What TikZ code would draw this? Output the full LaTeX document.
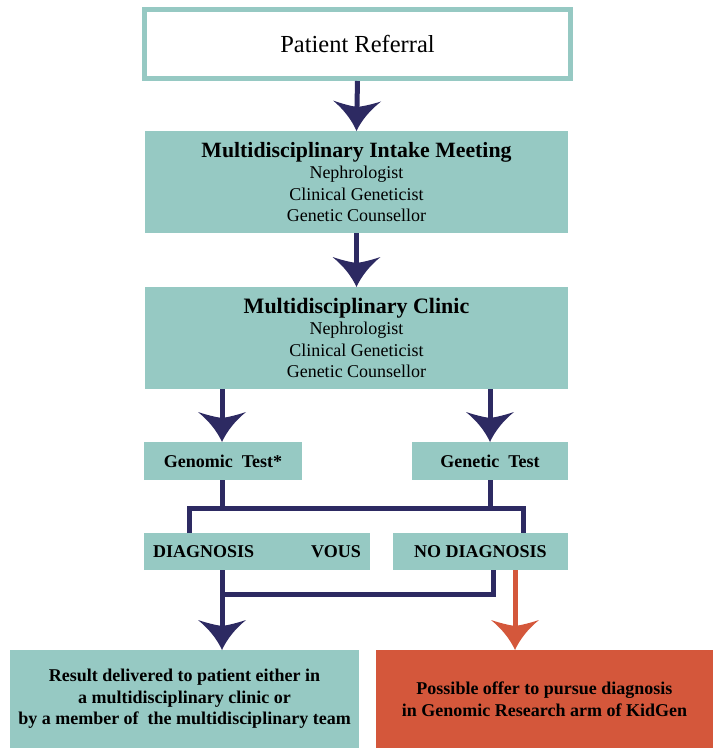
\documentclass[tikz,border=0pt]{standalone}
\usepackage{fontspec}
\setmainfont{Liberation Serif}
\usetikzlibrary{arrows.meta}
\definecolor{teal1}{RGB}{150,201,195}
\definecolor{navy1}{RGB}{45,42,98}
\definecolor{orange1}{RGB}{212,87,59}
\pgfdeclarearrow{
  name = Curvy,
  setup code = {
    \pgfarrowssettipend{0pt}
    \pgfarrowssetlineend{-20pt}
    \pgfarrowssetbackend{-30pt}
    \pgfarrowssetvisualbackend{-24pt}
    \pgfarrowshullpoint{0pt}{0pt}
    \pgfarrowshullpoint{-30pt}{24pt}
    \pgfarrowshullpoint{-30pt}{-24pt}
  },
  drawing code = {
    \pgfpathmoveto{\pgfqpoint{0pt}{0pt}}
    \pgfpathcurveto{\pgfqpoint{-11pt}{5pt}}{\pgfqpoint{-21pt}{13pt}}{\pgfqpoint{-30pt}{24pt}}
    \pgfpathcurveto{\pgfqpoint{-27pt}{15pt}}{\pgfqpoint{-25pt}{7pt}}{\pgfqpoint{-24pt}{0pt}}
    \pgfpathcurveto{\pgfqpoint{-25pt}{-7pt}}{\pgfqpoint{-27pt}{-15pt}}{\pgfqpoint{-30pt}{-24pt}}
    \pgfpathcurveto{\pgfqpoint{-21pt}{-13pt}}{\pgfqpoint{-11pt}{-5pt}}{\pgfqpoint{0pt}{0pt}}
    \pgfpathclose
    \pgfusepathqfill
  }
}
\tikzset{
  box/.style={fill=teal1, inner sep=0pt, outer sep=0pt, align=center, text=black},
  bigbox/.style={box, minimum width=423pt, minimum height=102pt,
    font=\fontsize{18}{21.5}\selectfont},
  smallbox/.style={box, minimum height=38pt, font=\fontsize{18}{21.5}\selectfont\bfseries},
  conn/.style={color=navy1, line width=5pt, line join=miter},
  arr/.style={conn, -Curvy},
  oarr/.style={color=orange1, line width=5pt, -Curvy},
}
\begin{document}
\begin{tikzpicture}[x=1pt,y=-1pt]
\useasboundingbox (0,0) rectangle (713,748);
% boxes
\node[draw=teal1, line width=5pt, fill=white, minimum width=426pt, minimum height=69pt,
  inner sep=0pt, font=\fontsize{24.5}{29}\selectfont] (pr) at (357.5,44) {Patient Referral};
\node[bigbox] (intake) at (356.5,182)
  {{\fontsize{21.8}{21.5}\selectfont\bfseries Multidisciplinary Intake Meeting}\\
   Nephrologist\\ Clinical Geneticist\\ Genetic Counsellor};
\node[bigbox] (clinic) at (356.5,338)
  {{\fontsize{22}{21.5}\selectfont\bfseries Multidisciplinary Clinic}\\
   Nephrologist\\ Clinical Geneticist\\ Genetic Counsellor};
\node[smallbox, minimum width=158pt] (genomic) at (223,461) {Genomic\ \ Test*};
\node[smallbox, minimum width=156pt] (genetic) at (490,461) {Genetic\ \ Test};
\node[smallbox, minimum width=226pt, minimum height=37pt] (diag) at (257,551.5)
  {DIAGNOSIS\hspace{57pt}VOUS};
\node[smallbox, minimum width=175pt, minimum height=37pt] (nodiag) at (480.5,551.5)
  {NO DIAGNOSIS};
\node[box, minimum width=349pt, minimum height=98pt, font=\fontsize{18}{21.5}\selectfont\bfseries]
  (result) at (184.5,699)
  {Result delivered to patient either in\\ a multidisciplinary clinic or\\
   by a member of\ \ the multidisciplinary team};
\node[box, fill=orange1, minimum width=337pt, minimum height=98pt,
  font=\fontsize{18}{22}\selectfont\bfseries] (research) at (544.5,699)
  {Possible offer to pursue diagnosis\\ in Genomic Research arm of KidGen};
% junction coordinates
\coordinate (busL) at (189,508);
\coordinate (busR) at (523,508);
\coordinate (lowL) at (222,594);
\coordinate (lowR) at (493,594);
\coordinate (leftX) at (222,400);
\coordinate (oX) at (515,600);
% connectors
\draw[arr] (pr.south) -- (intake.north);
\draw[arr] (intake.south) -- (clinic.north);
\draw[arr] (clinic.south -| leftX) -- (genomic.north -| leftX);
\draw[arr] (clinic.south -| genetic.north) -- (genetic.north);
\draw[conn] (genomic.south -| leftX) -- (busL -| leftX);
\draw[conn] (genetic.south) -- (busL -| genetic.south);
\draw[conn] (diag.north -| busL) -- (busL) -- (busR) -- (nodiag.north -| busR);
\draw[conn] (diag.south -| lowL) -- (lowL) -- (lowR) -- (nodiag.south -| lowR);
\draw[arr] ([yshift=2.5pt]lowL) -- (result.north -| lowL);
\draw[oarr] (nodiag.south -| oX) -- (research.north -| oX);
\end{tikzpicture}
\end{document}
